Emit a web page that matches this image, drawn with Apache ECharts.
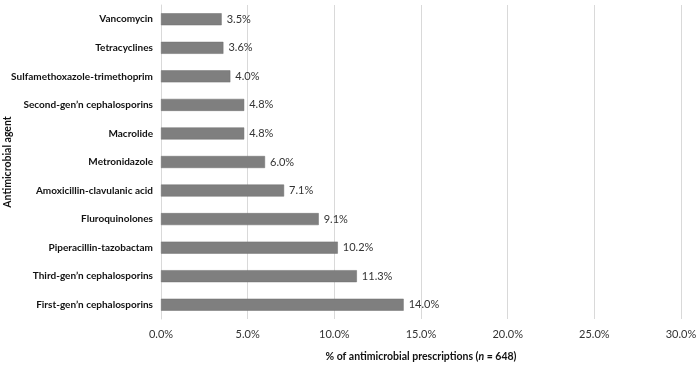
<!DOCTYPE html>
<html><head><meta charset="utf-8">
<script src="https://cdn.jsdelivr.net/npm/echarts@6/dist/echarts.min.js"></script>
<style>html,body{margin:0;padding:0;background:#fff}#c{width:700px;height:370px}</style>
</head><body><div id="c"></div>
<script>
const categories = ["First-gen\u2019n cephalosporins","Third-gen\u2019n cephalosporins","Piperacillin-tazobactam","Fluroquinolones","Amoxicillin-clavulanic acid","Metronidazole","Macrolide","Second-gen\u2019n cephalosporins","Sulfamethoxazole-trimethoprim","Tetracyclines","Vancomycin"];
const values = [14.0, 11.3, 10.2, 9.1, 7.1, 6.0, 4.8, 4.8, 4.0, 3.6, 3.5];
const xTicks = [0, 5, 10, 15, 20, 25, 30];
const xTitle = "{b|% of antimicrobial prescriptions (}{i|n}{b| = 648)}";
const yTitle = "Antimicrobial agent";

const chart = echarts.init(document.getElementById('c'));
const font = "Lato, 'Liberation Sans', sans-serif";
chart.setOption({
  animation: false,
  textStyle: {fontFamily: font},
  grid: {left: 161, right: 19, top: 5, bottom: 51, containLabel: false, outerBoundsMode: 'none'},
  xAxis: {
    type: 'value', min: xTicks[0], max: xTicks[xTicks.length-1], interval: 5,
    axisLine: {show: false}, axisTick: {show: false},
    splitLine: {lineStyle: {color: '#d9d9d9', width: 1}},
    axisLabel: {formatter: v => v.toFixed(1) + '%', color: '#333', fontSize: 11, fontFamily: font, margin: 10},
    name: xTitle, nameLocation: 'middle', nameGap: 32, nameMoveOverlap: false,
    nameTextStyle: {fontSize: 10.5, color: '#111', fontFamily: font,
      rich: {b: {fontWeight: 'bold', fontSize: 10.5, color: '#111', fontFamily: font},
             i: {fontWeight: 'bold', fontStyle: 'italic', fontSize: 10.5, color: '#111', fontFamily: font}}}
  },
  yAxis: {
    type: 'category', data: categories,
    axisLine: {show: true, lineStyle: {color: '#d9d9d9'}}, axisTick: {show: false},
    axisLabel: {fontWeight: 'bold', fontSize: 10, color: '#111', fontFamily: font, margin: 8},
    name: yTitle, nameLocation: 'middle', nameGap: 148, nameRotate: 90, nameMoveOverlap: false,
    nameTextStyle: {fontWeight: 'bold', fontSize: 10.5, color: '#111', fontFamily: font}
  },
  series: [{
    type: 'bar', data: values, barWidth: 12,
    itemStyle: {color: '#7f7f7f', borderColor: '#6f6f6f', borderWidth: 0.5},
    label: {show: true, position: 'right', distance: 5, formatter: p => p.value.toFixed(1) + '%', color: '#333', fontSize: 11, fontFamily: font}
  }]
});
</script></body></html>
